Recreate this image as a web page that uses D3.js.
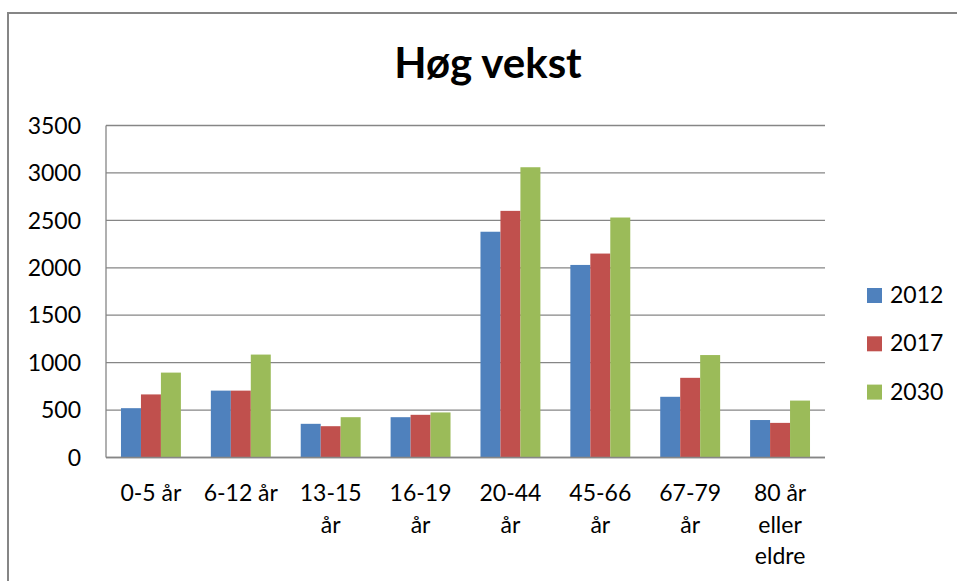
<!DOCTYPE html>
<html>
<head>
<meta charset="utf-8">
<script src="https://cdn.jsdelivr.net/npm/d3@7"></script>
<style>
  body { margin: 0; background: #fff; }
  text { font-family: Lato, "Open Sans", sans-serif; fill: #000; }
</style>
</head>
<body>
<script>
var w = 957;
var h = 581;

// data
var categories = ["0-5 år", "6-12 år", "13-15 år", "16-19 år", "20-44 år", "45-66 år", "67-79 år", "80 år eller eldre"];
var years = ["2012", "2017", "2030"];
var v2012 = [520, 705, 355, 425, 2380, 2030, 640, 395];
var v2017 = [665, 705, 330, 450, 2600, 2150, 840, 365];
var v2030 = [895, 1085, 425, 475, 3060, 2530, 1080, 600];
var yTicks = [0, 500, 1000, 1500, 2000, 2500, 3000, 3500];
var colors = ["#4f81bd", "#c0504d", "#9bbb59"];

var series = [v2012, v2017, v2030];

var svg = d3.select("body")
  .append("svg")
  .attr("width", w)
  .attr("height", h);

// chart frame
svg.append("path")
  .attr("d", "M8," + h + " V13 H" + w)
  .attr("fill", "none")
  .attr("stroke", "#868686")
  .attr("stroke-width", 2);

// plot area (named pl* because "top" is taken by window.top)
var plLeft = 106, plRight = 825, plTop = 125.5, plBottom = 457.5;

var x = d3.scaleBand()
  .domain(categories)
  .range([plLeft, plRight])
  .paddingInner(1 / 3)
  .paddingOuter(1 / 6);

var x1 = d3.scaleBand()
  .domain(years)
  .range([0, x.bandwidth()]);

var y = d3.scaleLinear()
  .domain([0, 3500])
  .range([plBottom, plTop]);

// gridlines
svg.selectAll(".grid")
  .data(yTicks)
  .enter()
  .append("line")
  .attr("class", "grid")
  .attr("x1", plLeft)
  .attr("x2", plRight)
  .attr("y1", function(d) { return y(d); })
  .attr("y2", function(d) { return y(d); })
  .attr("stroke", "#868686")
  .attr("stroke-width", 1.3);

svg.append("line")
  .attr("x1", plLeft).attr("x2", plLeft)
  .attr("y1", y(3500)).attr("y2", y(0))
  .attr("stroke", "#868686")
  .attr("stroke-width", 1.3);

// y labels
svg.selectAll(".ylab")
  .data(yTicks)
  .enter()
  .append("text")
  .attr("class", "ylab")
  .attr("x", 81)
  .attr("y", function(d) { return y(d); })
  .attr("dy", "0.36em")
  .attr("text-anchor", "end")
  .style("font-size", "23px")
  .text(function(d) { return d; });

// bars
var groups = svg.selectAll(".grp")
  .data(categories)
  .enter()
  .append("g")
  .attr("class", "grp")
  .attr("transform", function(d) { return "translate(" + x(d) + ",0)"; });

groups.selectAll("rect")
  .data(function(d, i) {
    return years.map(function(yr, j) { return { year: yr, value: series[j][i], c: colors[j] }; });
  })
  .enter()
  .append("rect")
  .attr("x", function(d) { return x1(d.year); })
  .attr("y", function(d) { return y(d.value); })
  .attr("width", x1.bandwidth())
  .attr("height", function(d) { return y(0) - y(d.value); })
  .attr("fill", function(d) { return d.c; });

// redraw bottom axis line over bars
svg.append("line")
  .attr("x1", plLeft).attr("x2", plRight)
  .attr("y1", y(0)).attr("y2", y(0))
  .attr("stroke", "#868686")
  .attr("stroke-width", 1.3);

// category labels, wrapped
var xlab = svg.selectAll(".xlab")
  .data(categories)
  .enter()
  .append("text")
  .attr("class", "xlab")
  .attr("text-anchor", "middle")
  .style("font-size", "23px")
  .attr("x", function(d) { return x(d) + x.bandwidth() / 2; })
  .attr("y", 501);

xlab.each(function(d) {
  var t = d3.select(this);
  var cx = t.attr("x");
  var words = d.split(" ");
  var lines = [];
  var cur = [];
  var probe = t.append("tspan");
  words.forEach(function(wd) {
    var test = cur.concat([wd]).join(" ");
    probe.text(test);
    if (probe.node().getComputedTextLength() > 80 && cur.length) {
      lines.push(cur.join(" "));
      cur = [wd];
    } else {
      cur.push(wd);
    }
  });
  lines.push(cur.join(" "));
  probe.remove();
  lines.forEach(function(l, i) {
    t.append("tspan")
      .attr("x", cx)
      .attr("dy", i == 0 ? 0 : 31.5)
      .text(l);
  });
});

// legend
var leg = svg.selectAll(".leg")
  .data(years)
  .enter()
  .append("g")
  .attr("class", "leg")
  .attr("transform", function(d, i) { return "translate(867," + (288 + i * 48.3) + ")"; });

leg.append("rect")
  .attr("width", 15)
  .attr("height", 15)
  .attr("fill", function(d, i) { return colors[i]; });

leg.append("text")
  .attr("x", 23)
  .attr("y", 15)
  .style("font-size", "23px")
  .text(function(d) { return d; });

// title
svg.append("text")
  .attr("x", 488)
  .attr("y", 78)
  .attr("text-anchor", "middle")
  .style("font-size", "42px")
  .style("font-weight", "bold")
  .text("Høg vekst");
</script>
</body>
</html>
